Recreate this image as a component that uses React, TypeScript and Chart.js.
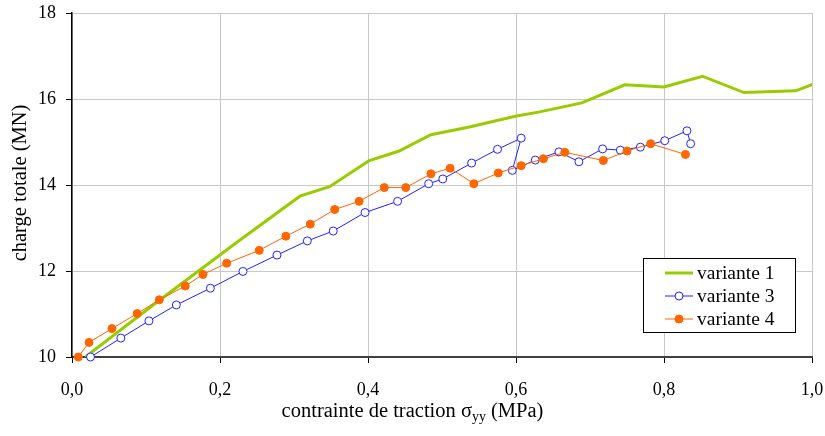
import React, { useEffect, useRef } from "react";
import { Chart, registerables } from "chart.js";
Chart.register(...registerables);

// variante 1 (green line, no markers)
const v1X = [0.018, 0.119, 0.227, 0.308, 0.348, 0.401, 0.442, 0.485, 0.537, 0.599, 0.632, 0.689, 0.747, 0.8, 0.852, 0.908, 0.978, 1.005];
const v1Y = [10.0, 11.33, 12.72, 13.74, 13.96, 14.56, 14.79, 15.17, 15.35, 15.6, 15.7, 15.91, 16.33, 16.28, 16.53, 16.15, 16.19, 16.37];

// variante 3 (blue, open circles)
const v3X = [0.025, 0.066, 0.104, 0.141, 0.187, 0.231, 0.277, 0.318, 0.353, 0.396, 0.44, 0.482, 0.501, 0.54, 0.575, 0.607, 0.595, 0.626, 0.658, 0.685, 0.717, 0.741, 0.768, 0.801, 0.831, 0.836];
const v3Y = [10.0, 10.44, 10.84, 11.21, 11.6, 11.99, 12.37, 12.7, 12.93, 13.36, 13.62, 14.03, 14.14, 14.51, 14.83, 15.09, 14.34, 14.58, 14.77, 14.54, 14.84, 14.81, 14.88, 15.03, 15.26, 14.96];

// variante 4 (orange, filled circles)
const v4X = [0.0085, 0.023, 0.054, 0.088, 0.118, 0.153, 0.177, 0.209, 0.253, 0.289, 0.322, 0.355, 0.388, 0.422, 0.451, 0.485, 0.511, 0.543, 0.576, 0.607, 0.637, 0.666, 0.718, 0.75, 0.782, 0.829];
const v4Y = [10.0, 10.34, 10.66, 11.01, 11.33, 11.65, 11.92, 12.18, 12.48, 12.81, 13.09, 13.43, 13.62, 13.94, 13.94, 14.26, 14.39, 14.03, 14.28, 14.45, 14.61, 14.76, 14.57, 14.79, 14.96, 14.71];

const seriesNames = ["variante 1", "variante 3", "variante 4"];
const xTitleMain = "contrainte de traction σ";
const xTitleSub = "yy";
const xTitleEnd = " (MPa)";
const yTitle = "charge totale (MN)";

const GREEN = "#99cc00";
const BLUE = "#2222ff";
const ORANGE = "#ff6600";
const FONT = "'Liberation Serif', 'Times New Roman', serif";

const pts = (xs: number[], ys: number[]) => xs.map((x, i) => ({ x, y: ys[i] }));

const overlayPlugin = {
  id: "overlay",
  afterDraw(chart: any) {
    const ctx = chart.ctx;
    ctx.save();
    // x title with subscript
    const fs = 20.5;
    ctx.fillStyle = "#000";
    ctx.textBaseline = "alphabetic";
    ctx.font = `${fs}px ${FONT}`;
    const w1 = ctx.measureText(xTitleMain).width;
    const w3 = ctx.measureText(xTitleEnd).width;
    ctx.font = `${fs * 0.68}px ${FONT}`;
    const w2 = ctx.measureText(xTitleSub).width;
    const total = w1 + w2 + w3;
    let x = chart.width / 2 - total / 2;
    const base = 417;
    ctx.font = `${fs}px ${FONT}`;
    ctx.textAlign = "left";
    ctx.fillText(xTitleMain, x, base);
    x += w1;
    ctx.font = `${fs * 0.68}px ${FONT}`;
    ctx.fillText(xTitleSub, x, base + 4);
    x += w2;
    ctx.font = `${fs}px ${FONT}`;
    ctx.fillText(xTitleEnd, x, base);

    // y title
    ctx.save();
    ctx.translate(21, 183);
    ctx.rotate(-Math.PI / 2);
    ctx.textAlign = "center";
    ctx.textBaseline = "middle";
    ctx.font = `${fs}px ${FONT}`;
    ctx.fillText(yTitle, 0, 0);
    ctx.restore();

    // legend
    const lx = 643, ly = 258, lw = 152, lh = 74;
    ctx.fillStyle = "#fff";
    ctx.fillRect(lx, ly, lw, lh);
    ctx.strokeStyle = "#000";
    ctx.lineWidth = 1;
    ctx.strokeRect(lx + 0.5, ly + 0.5, lw, lh);
    const rows = [273, 296, 319];
    chart.data.datasets.forEach((ds: any, i: number) => {
      const yy = rows[i];
      ctx.strokeStyle = ds.borderColor;
      ctx.lineWidth = ds.borderWidth;
      ctx.beginPath();
      ctx.moveTo(665, yy);
      ctx.lineTo(693, yy);
      ctx.stroke();
      if (ds.pointRadius > 0) {
        ctx.beginPath();
        ctx.arc(679, yy, ds.pointRadius, 0, Math.PI * 2);
        ctx.fillStyle = ds.pointBackgroundColor;
        ctx.fill();
        ctx.strokeStyle = ds.pointBorderColor;
        ctx.lineWidth = 1;
        ctx.stroke();
      }
      ctx.fillStyle = "#000";
      ctx.font = `19.5px ${FONT}`;
      ctx.textAlign = "left";
      ctx.textBaseline = "middle";
      ctx.fillText(ds.label, 697, yy + 1);
    });
    ctx.restore();
  },
};

export default function App() {
  const ref = useRef<HTMLCanvasElement>(null);
  useEffect(() => {
    document.body.style.margin = "0";
    const chart = new Chart(ref.current!, {
      type: "line",
      data: {
        datasets: [
          {
            label: seriesNames[0],
            data: pts(v1X, v1Y),
            borderColor: GREEN,
            backgroundColor: GREEN,
            borderWidth: 3,
            pointRadius: 0,
            pointBackgroundColor: GREEN,
            pointBorderColor: GREEN,
            order: 3,
          },
          {
            label: seriesNames[1],
            data: pts(v3X, v3Y),
            borderColor: BLUE,
            backgroundColor: "#fff",
            borderWidth: 1,
            pointRadius: 4,
            pointBackgroundColor: "#fff",
            pointBorderColor: BLUE,
            pointBorderWidth: 1,
            clip: false,
            order: 2,
          },
          {
            label: seriesNames[2],
            data: pts(v4X, v4Y),
            borderColor: ORANGE,
            backgroundColor: ORANGE,
            borderWidth: 1,
            pointRadius: 4,
            pointBackgroundColor: ORANGE,
            pointBorderColor: ORANGE,
            pointBorderWidth: 1,
            clip: false,
            order: 1,
          },
        ] as any,
      },
      options: {
        animation: false,
        responsive: false,
        layout: { padding: { top: 13, right: 13, left: 0, bottom: 0 } },
        plugins: { legend: { display: false }, tooltip: { enabled: false } },
        scales: {
          x: {
            type: "linear",
            min: 0,
            max: 1,
            afterFit: (s: any) => { s.height = 79; s.paddingLeft = 0; s.paddingRight = 0; },
            ticks: {
              stepSize: 0.2,
              color: "#000",
              font: { family: FONT, size: 18 },
              padding: 16,
              maxRotation: 0,
              callback: (v: any) => Number(v).toFixed(1).replace(".", ","),
            },
            grid: { color: "#c8c8c8", tickColor: "#000", tickLength: 6, lineWidth: 1 },
            border: { color: "#404040", width: 2 },
          },
          y: {
            type: "linear",
            min: 10,
            max: 18,
            afterFit: (s: any) => { s.width = 72; s.paddingTop = 0; s.paddingBottom = 0; },
            ticks: {
              stepSize: 2,
              color: "#000",
              font: { family: FONT, size: 18 },
              padding: 10,
            },
            grid: { color: "#c8c8c8", tickColor: "#000", tickLength: 6, lineWidth: 1 },
            border: { color: "#000", width: 1.5 },
          },
        },
      } as any,
      plugins: [overlayPlugin],
    });
    return () => chart.destroy();
  }, []);
  return (
    <div style={{ width: 825, height: 436 }}>
      <canvas ref={ref} width={825} height={436} style={{ width: 825, height: 436, display: "block" }} />
    </div>
  );
}
